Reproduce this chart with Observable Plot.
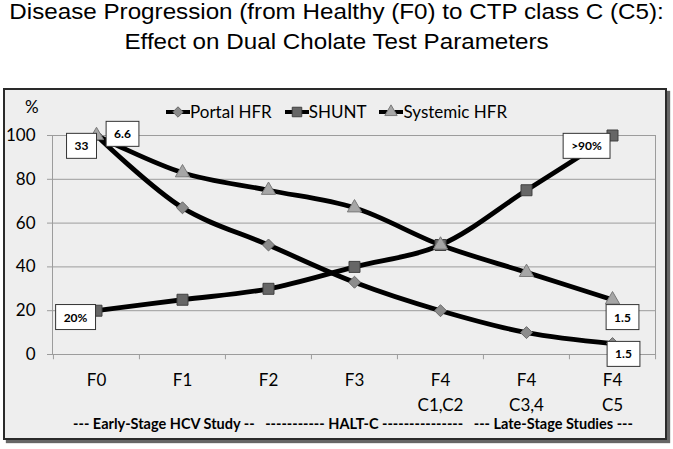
<!DOCTYPE html>
<html><head><meta charset="utf-8">
<script src="https://cdn.jsdelivr.net/npm/d3@7"></script>
<script src="https://cdn.jsdelivr.net/npm/@observablehq/plot@0.6"></script>
<style>
body{margin:0;background:#fff;width:673px;height:449px;position:relative;overflow:hidden;font-family:Lato,sans-serif}
#title{position:absolute;left:0;top:-3px;width:673px;text-align:center;font:22px/30px "Liberation Sans",Arial,sans-serif;color:#000;white-space:nowrap;transform:scaleX(1.1);transform-origin:336px 0}
#box{position:absolute;left:3px;top:88px;width:660px;height:348px;background:#eeeeee;border:2px solid #2a2a2a;box-shadow:3px 3px 1px #666}
#chart{position:absolute;left:0;top:90px}
#legend{position:absolute;top:101px;left:166px;display:flex;align-items:center;font:17px Lato,sans-serif;color:#000;white-space:nowrap}
#legend .item{display:flex;align-items:center;margin-right:13px}
#legend svg{display:block}
#pct{position:absolute;left:25px;top:96px;font:17px Lato,sans-serif}
#footer{position:absolute;left:0;width:706px;top:415px;text-align:center;font:bold 14.5px Lato,sans-serif;white-space:pre;color:#000}
</style></head>
<body>
<div id="title">Disease Progression (from Healthy (F0) to CTP class C (C5):<br>Effect on Dual Cholate Test Parameters</div>
<div id="box"></div>
<div id="chart"></div>
<div id="legend"></div>
<div id="pct">%</div>
<div id="footer"></div>
<script>
const stages = ["F0","F1","F2","F3","F4\nC1,C2","F4\nC3,4","F4\nC5"];
const seriesNames = ["Portal HFR","SHUNT","Systemic HFR"];
const portalHFR = [100,67,50,33,20,10,5];
const shunt = [20,25,30,40,50,75,100];
const systemicHFR = [100,83,75,67,50,37.5,25];
const yTicks = [0,20,40,60,80,100];
const annotations = [
  {series:"Portal HFR", stage:"F0", text:"33"},
  {series:"Systemic HFR", stage:"F0", text:"6.6"},
  {series:"SHUNT", stage:"F0", text:"20%"},
  {series:"SHUNT", stage:"F4\nC5", text:">90%"},
  {series:"Systemic HFR", stage:"F4\nC5", text:"1.5"},
  {series:"Portal HFR", stage:"F4\nC5", text:"1.5"}
];
const footerText = "--- Early-Stage HCV Study --   ----------- HALT-C ---------------   --- Late-Stage Studies ---";

const valuesBySeries = {"Portal HFR": portalHFR, "SHUNT": shunt, "Systemic HFR": systemicHFR};
const rows = seriesNames.flatMap(s => stages.map((st, j) => ({series: s, stage: st, value: valuesBySeries[s][j]})));
const ann = annotations.map(a => ({...a, value: valuesBySeries[a.series][stages.indexOf(a.stage)]}));

const styles = {
  "Portal HFR": {symbol: "diamond2", d3sym: d3.symbolDiamond2, r: 5.4, fill: "#8c8c8c", stroke: "#6a6a6a"},
  "SHUNT": {symbol: "square", d3sym: d3.symbolSquare, r: 6.2, fill: "#666666", stroke: "#404040"},
  "Systemic HFR": {symbol: "triangle", d3sym: d3.symbolTriangle, r: 5.3, fill: "#a6a6a6", stroke: "#7a7a7a"}
};
const offsets = [[-15, 11], [26, -1], [-21, 7], [-26, 11], [10, 18], [11, 11]];

const W = 673, H = 359, mL = 52, mR = 18, mT = 45, mB = 95;
const step = (W - mL - mR) / stages.length;
const grid = "#9c9c9c";

const plot = Plot.plot({
  width: W, height: H, marginLeft: mL, marginRight: mR, marginTop: mT, marginBottom: mB,
  style: {background: "transparent", fontFamily: "Lato, sans-serif", color: "#000", overflow: "visible"},
  x: {type: "point", domain: stages, padding: 0.5},
  y: {domain: [0, 100]},
  marks: [
    Plot.gridY(yTicks.slice(1), {stroke: grid, strokeOpacity: 1}),
    Plot.frame({stroke: grid}),
    Plot.ruleX(stages, {x: d => d, y1: 0, y2: -2.4, dx: -step / 2, stroke: grid}),
    Plot.ruleX(stages.slice(-1), {x: d => d, y1: 0, y2: -2.4, dx: step / 2, stroke: grid}),
    Plot.axisY(yTicks, {tickSize: 5, tickPadding: 12, fontSize: 17, stroke: grid, label: null}),
    Plot.axisX({tickSize: 0, tickPadding: 14, fontSize: 17, lineHeight: 1.45, label: null}),
    Plot.line(rows, {x: "stage", y: "value", z: "series", curve: "catmull-rom", stroke: "#000", strokeWidth: 4.8}),
    ...seriesNames.map(s => Plot.dot(rows.filter(d => d.series === s), {x: "stage", y: "value", symbol: styles[s].symbol, r: styles[s].r, fill: styles[s].fill, stroke: styles[s].stroke, strokeWidth: 1})),
    ...ann.map((a, i) => Plot.text([a], {x: "stage", y: "value", text: "text", dx: offsets[i][0], dy: offsets[i][1], fontSize: 12, fontWeight: "bold", fill: "#000", className: "ann"}))
  ]
});
document.getElementById("chart").appendChild(plot);

// boxes behind annotation text
plot.querySelectorAll("g.ann text").forEach(t => {
  const b = t.getBBox();
  const padX = 8, padY = 5;
  const r = document.createElementNS("http://www.w3.org/2000/svg", "rect");
  r.setAttribute("x", b.x - padX); r.setAttribute("y", b.y - padY);
  r.setAttribute("width", b.width + 2 * padX); r.setAttribute("height", b.height + 2 * padY);
  r.setAttribute("fill", "#fff"); r.setAttribute("stroke", "#333"); r.setAttribute("stroke-width", 1);
  if (t.getAttribute("transform")) r.setAttribute("transform", t.getAttribute("transform"));
  t.parentNode.insertBefore(r, t);
});

// legend
const leg = document.getElementById("legend");
seriesNames.forEach(s => {
  const st = styles[s];
  const item = document.createElement("div"); item.className = "item";
  const sym = d3.symbol(st.d3sym, Math.PI * st.r * st.r * 0.75)();
  item.innerHTML = `<svg width="24" height="16"><line x1="0" x2="24" y1="8" y2="8" stroke="#000" stroke-width="4"/><path d="${sym}" transform="translate(12,8)" fill="${st.fill}" stroke="${st.stroke}"/></svg><span>${s}</span>`;
  leg.appendChild(item);
});
document.getElementById("footer").textContent = footerText;
</script>
</body></html>
